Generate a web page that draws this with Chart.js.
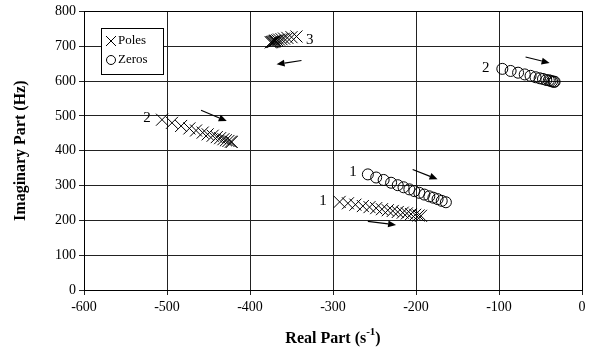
<!DOCTYPE html>
<html>
<head>
<meta charset="utf-8">
<script src="https://cdn.jsdelivr.net/npm/chart.js@4/dist/chart.umd.min.js"></script>
<style>
  html, body { margin: 0; padding: 0; background: #fff; }
</style>
</head>
<body>
<canvas id="rootLocus" width="595" height="352"></canvas>
<script>
// pole branches (real part s^-1, imaginary part Hz)
const POLES_1_RE = [-292, -282, -273, -264, -256, -248, -241, -234, -228, -222, -216, -211, -206, -201, -197, -194];
const POLES_1_IM = [253, 249, 245, 241, 238, 235, 232, 229, 227, 224, 222, 220, 218, 216, 214, 213];
const POLES_2_RE = [-506, -494, -483, -473, -465, -457, -451, -445, -440, -436, -432, -429, -426, -423, -422];
const POLES_2_IM = [489, 480, 471, 464, 458, 452, 447, 443, 439, 436, 433, 430, 428, 426, 425];
const POLES_3_RE = [-344, -350, -355, -359, -362, -365, -367, -369, -370, -371, -372, -373, -374, -375];
const POLES_3_IM = [728, 726, 724, 722, 720, 719, 717, 716, 715, 714, 713, 712, 712, 711];

// zero branches
const ZEROS_1_RE = [-258, -248, -239, -230, -222, -215, -208, -202, -196, -190, -184, -179, -174, -169, -164];
const ZEROS_1_IM = [332, 323, 316, 308, 301, 295, 289, 284, 279, 274, 269, 265, 261, 256, 252];
const ZEROS_2_RE = [-96, -86, -77, -69, -62, -56, -51, -47, -43, -40, -38, -36, -34, -33];
const ZEROS_2_IM = [635, 629, 624, 619, 615, 611, 608, 606, 603, 602, 601, 599, 598, 598];

// branch labels and direction arrows, in data units
const BRANCH_LABELS = [
  { text: "2", x: -524, y: 494 },
  { text: "3", x: -328, y: 718 },
  { text: "1", x: -312, y: 255 },
  { text: "1", x: -276, y: 338 },
  { text: "2", x: -116, y: 638 },
];
const ARROWS = [
  { from: [-459, 516], to: [-428, 485] },
  { from: [-338, 659], to: [-368, 648] },
  { from: [-204, 346], to: [-174, 318] },
  { from: [-258, 197], to: [-224, 187] },
  { from: [-68, 669], to: [-39, 652] },
];

const X_TICKS = [-600, -500, -400, -300, -200, -100, 0];
const Y_TICKS = [0, 100, 200, 300, 400, 500, 600, 700, 800];

const FONT = "'Liberation Serif', 'Times New Roman', serif";

const toPoints = (re, im) => re.map((x, i) => ({ x, y: im[i] }));

const poleStyle = {
  pointStyle: "crossRot",
  pointRadius: 8.5,
  borderColor: "#000",
  borderWidth: 1,
  backgroundColor: "transparent",
  showLine: false,
};
const zeroStyle = {
  pointStyle: "circle",
  pointRadius: 5.5,
  borderColor: "#000",
  borderWidth: 1,
  backgroundColor: "transparent",
  showLine: false,
};

const annotations = {
  id: "annotations",
  afterDatasetsDraw(chart) {
    const { ctx, scales, chartArea } = chart;
    const xs = scales.x, ys = scales.y;
    ctx.save();
    ctx.fillStyle = "#000";
    ctx.strokeStyle = "#000";

    // frame around the plot
    ctx.lineWidth = 1;
    ctx.strokeRect(Math.round(chartArea.left) + 0.5, Math.round(chartArea.top) + 0.5,
      Math.round(chartArea.right - chartArea.left), Math.round(chartArea.bottom - chartArea.top));

    ctx.font = `15px ${FONT}`;
    ctx.textAlign = "center";
    ctx.textBaseline = "middle";
    BRANCH_LABELS.forEach((l) => {
      ctx.fillText(l.text, xs.getPixelForValue(l.x), ys.getPixelForValue(l.y));
    });

    ARROWS.forEach((a) => {
      const x1 = xs.getPixelForValue(a.from[0]), y1 = ys.getPixelForValue(a.from[1]);
      const x2 = xs.getPixelForValue(a.to[0]), y2 = ys.getPixelForValue(a.to[1]);
      const ang = Math.atan2(y2 - y1, x2 - x1);
      const head = 8, half = 3.5;
      const bx = x2 - head * Math.cos(ang), by = y2 - head * Math.sin(ang);
      ctx.lineWidth = 1.2;
      ctx.beginPath();
      ctx.moveTo(x1, y1);
      ctx.lineTo(bx, by);
      ctx.stroke();
      ctx.beginPath();
      ctx.moveTo(x2, y2);
      ctx.lineTo(bx + half * Math.sin(ang), by - half * Math.cos(ang));
      ctx.lineTo(bx - half * Math.sin(ang), by + half * Math.cos(ang));
      ctx.closePath();
      ctx.fill();
    });

    // legend box, top left inside the plot
    const lx = Math.round(chartArea.left) + 17, ly = Math.round(chartArea.top) + 17;
    ctx.fillStyle = "#fff";
    ctx.fillRect(lx, ly, 62, 46);
    ctx.lineWidth = 1;
    ctx.strokeRect(lx + 0.5, ly + 0.5, 62, 46);
    ctx.fillStyle = "#000";
    ctx.textAlign = "left";
    ctx.font = `13px ${FONT}`;
    ctx.fillText("Poles", lx + 17, ly + 13);
    ctx.fillText("Zeros", lx + 17, ly + 32);
    ctx.beginPath();
    ctx.moveTo(lx + 5, ly + 8); ctx.lineTo(lx + 15, ly + 18);
    ctx.moveTo(lx + 15, ly + 8); ctx.lineTo(lx + 5, ly + 18);
    ctx.stroke();
    ctx.beginPath();
    ctx.arc(lx + 10, ly + 32, 4.5, 0, Math.PI * 2);
    ctx.stroke();

    // x axis title with superscript
    const cx = (chartArea.left + chartArea.right) / 2;
    const ty = 339;
    const main = "Real Part (s", tail = ")";
    ctx.font = `bold 11px ${FONT}`;
    const supW = ctx.measureText("-1").width;
    ctx.font = `bold 16px ${FONT}`;
    const mainW = ctx.measureText(main).width, tailW = ctx.measureText(tail).width;
    let sx = cx - (mainW + supW + tailW) / 2;
    ctx.fillText(main, sx, ty);
    sx += mainW;
    ctx.font = `bold 11px ${FONT}`;
    ctx.fillText("-1", sx, ty - 7);
    sx += supW;
    ctx.font = `bold 16px ${FONT}`;
    ctx.fillText(tail, sx, ty);
    ctx.restore();
  },
};

new Chart(document.getElementById("rootLocus").getContext("2d"), {
  type: "scatter",
  data: {
    datasets: [
      { label: "Poles 1", data: toPoints(POLES_1_RE, POLES_1_IM), ...poleStyle },
      { label: "Poles 2", data: toPoints(POLES_2_RE, POLES_2_IM), ...poleStyle },
      { label: "Poles 3", data: toPoints(POLES_3_RE, POLES_3_IM), ...poleStyle },
      { label: "Zeros 1", data: toPoints(ZEROS_1_RE, ZEROS_1_IM), ...zeroStyle },
      { label: "Zeros 2", data: toPoints(ZEROS_2_RE, ZEROS_2_IM), ...zeroStyle },
    ],
  },
  options: {
    responsive: false,
    animation: false,
    events: [],
    layout: { padding: { top: 8, right: 13, left: 0, bottom: 0 } },
    plugins: {
      legend: { display: false },
      tooltip: { enabled: false },
    },
    scales: {
      x: {
        type: "linear",
        min: -600,
        max: 0,
        afterBuildTicks: (s) => { s.ticks = X_TICKS.map((v) => ({ value: v })); },
        afterFit: (s) => { s.height = 62; },
        grid: { color: "#222", lineWidth: 1, tickLength: 5, drawTicks: true },
        border: { color: "#000", width: 1 },
        ticks: { color: "#000", font: { family: FONT, size: 14 }, padding: 4, maxRotation: 0 },
      },
      y: {
        type: "linear",
        min: 0,
        max: 800,
        afterBuildTicks: (s) => { s.ticks = Y_TICKS.map((v) => ({ value: v })); },
        afterFit: (s) => { s.width = 84; },
        grid: { color: "#222", lineWidth: 1, tickLength: 5, drawTicks: true },
        border: { color: "#000", width: 1 },
        ticks: { color: "#000", font: { family: FONT, size: 14 }, padding: 3 },
        title: {
          display: true,
          text: "Imaginary Part (Hz)",
          color: "#000",
          font: { family: FONT, size: 16, weight: "bold" },
          padding: { top: 11, bottom: 4 },
        },
      },
    },
  },
  plugins: [annotations],
});
</script>
</body>
</html>
